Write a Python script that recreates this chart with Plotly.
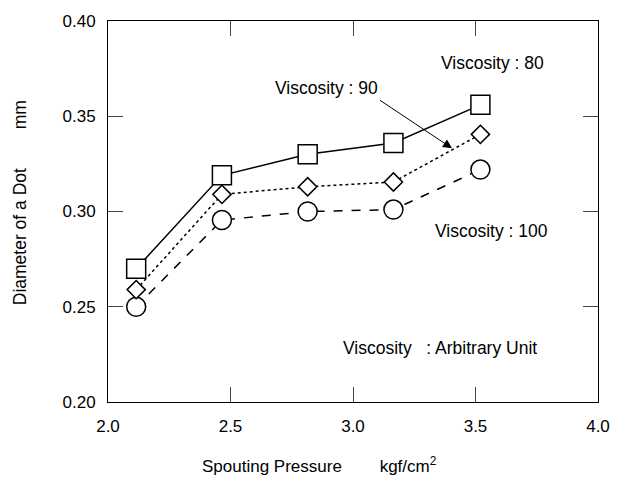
import plotly.graph_objects as go

pressure = [2.115, 2.465, 2.815, 3.165, 3.52]
visc80 = [0.270, 0.319, 0.330, 0.336, 0.356]
visc90 = [0.259, 0.309, 0.313, 0.3155, 0.3405]
visc100 = [0.250, 0.2955, 0.300, 0.301, 0.322]

x_ticks = [2.0, 2.5, 3.0, 3.5, 4.0]
y_ticks = [0.20, 0.25, 0.30, 0.35, 0.40]

FONT = "Liberation Sans, Arial, sans-serif"
NB = "\u00a0"

fig = go.Figure()
fig.add_trace(go.Scatter(x=pressure, y=visc100, mode="lines+markers",
                         line=dict(color="black", width=1.5, dash="dash"),
                         marker=dict(symbol="circle", size=19, color="white",
                                     line=dict(color="black", width=1.5)),
                         showlegend=False))
fig.add_trace(go.Scatter(x=pressure, y=visc90, mode="lines+markers",
                         line=dict(color="black", width=1.5, dash="dot"),
                         marker=dict(symbol="diamond", size=14, color="white",
                                     line=dict(color="black", width=1.5)),
                         showlegend=False))
fig.add_trace(go.Scatter(x=pressure, y=visc80, mode="lines+markers",
                         line=dict(color="black", width=1.5, dash="solid"),
                         marker=dict(symbol="square", size=19, color="white",
                                     line=dict(color="black", width=1.5)),
                         showlegend=False))

ann_font = dict(family=FONT, size=17.5, color="black")
fig.add_annotation(x=3.571, y=0.3777, text="Viscosity : 80", showarrow=False, font=ann_font)
fig.add_annotation(x=3.565, y=0.290, text="Viscosity : 100", showarrow=False, font=ann_font)
fig.add_annotation(x=3.357, y=0.2282, text="Viscosity" + NB * 3 + ": Arbitrary Unit",
                   showarrow=False, font=ann_font)
fig.add_annotation(x=3.404, y=0.3332, ax=-72, ay=-48, axref="pixel", ayref="pixel",
                   xanchor="right", yanchor="bottom",
                   text="Viscosity : 90", showarrow=True, arrowhead=2, arrowsize=1.8,
                   arrowwidth=1, arrowcolor="black", font=ann_font)

# axis titles
fig.add_annotation(xref="paper", yref="paper", x=(200 - 108) / 490, y=(402 - 465) / 383,
                   xanchor="left", yanchor="middle", showarrow=False,
                   text="Spouting Pressure" + NB * 8 + "kgf/cm<sup>2</sup>",
                   font=dict(family=FONT, size=17, color="black"))
fig.add_annotation(xref="paper", yref="paper", x=(19.7 - 108) / 490, y=(402 - 201.5) / 383,
                   xanchor="center", yanchor="middle", showarrow=False, textangle=-90,
                   text="Diameter of a Dot" + NB * 8 + "mm",
                   font=dict(family=FONT, size=17.5, color="black"))

fig.update_layout(
    width=623, height=482,
    margin=dict(l=108, r=25, t=19, b=80),
    paper_bgcolor="white", plot_bgcolor="white",
    font=dict(family=FONT, size=16, color="black"),
)
fig.update_xaxes(range=[2.0, 4.0], tickvals=x_ticks, ticktext=[f"{v:.1f}" for v in x_ticks],
                 ticks="inside", ticklen=15, tickcolor="#444", tickwidth=1,
                 showline=True, linecolor="black", linewidth=1, mirror="ticks",
                 showgrid=False, zeroline=False, ticklabelstandoff=9,
                 tickfont=dict(size=17))
fig.update_yaxes(range=[0.20, 0.40], tickvals=y_ticks, ticktext=[f"{v:.2f}" for v in y_ticks],
                 ticks="inside", ticklen=15, tickcolor="#444", tickwidth=1,
                 showline=True, linecolor="black", linewidth=1, mirror="ticks",
                 showgrid=False, zeroline=False, ticklabelstandoff=8,
                 tickfont=dict(size=17))

fig.write_html("out.html")
